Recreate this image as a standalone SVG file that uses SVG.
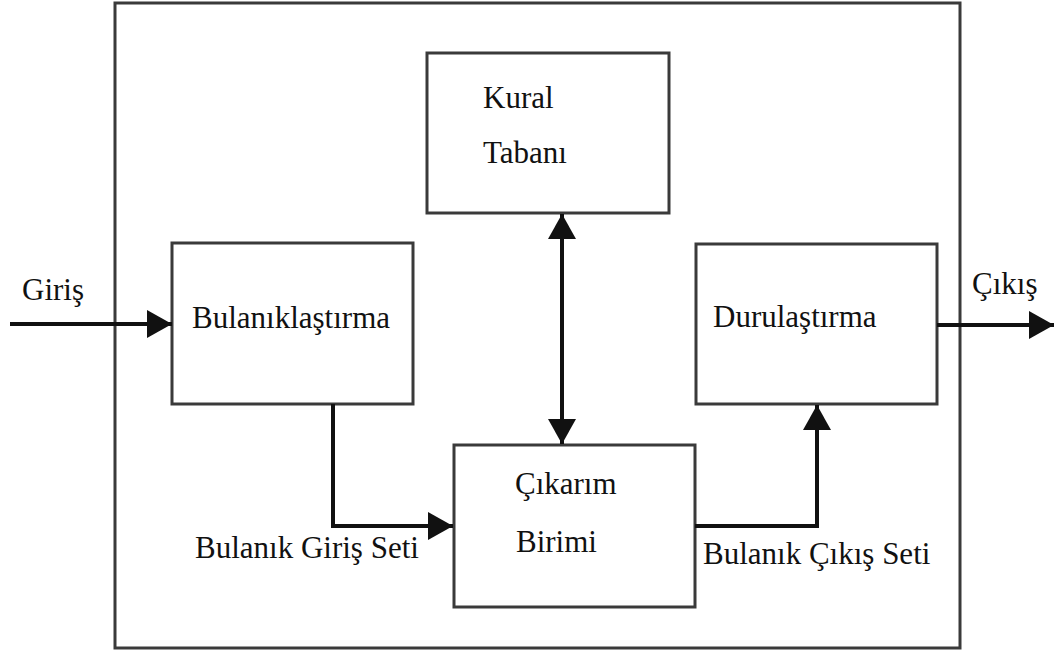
<svg xmlns="http://www.w3.org/2000/svg" width="1055" height="655" viewBox="0 0 1055 655">
  <style>
    .box { fill: #ffffff; stroke: #3a3a3a; stroke-width: 3; }
    .frame { fill: none; stroke: #3a3a3a; stroke-width: 3; }
    .wire { fill: none; stroke: #111111; stroke-width: 4; stroke-linejoin: miter; }
    .lbl { font-family: "Liberation Serif", "Times New Roman", serif; font-size: 31px; fill: #111111; }
  </style>
  <defs>
    <marker id="head" markerUnits="userSpaceOnUse" markerWidth="26" markerHeight="28" refX="25" refY="14" orient="auto-start-reverse">
      <path d="M0,0 L25,14 L0,28 Z" fill="#111111"/>
    </marker>
  </defs>

  <rect width="1055" height="655" fill="#ffffff"/>

  <!-- enclosing system frame -->
  <rect id="frame" class="frame" x="115" y="3" width="845" height="645"/>

  <!-- blocks -->
  <g id="kural-tabani">
    <rect class="box" x="427" y="53" width="242" height="160"/>
    <text class="lbl" x="483" y="108">Kural</text>
    <text class="lbl" x="483" y="163">Tabanı</text>
  </g>

  <g id="bulaniklastirma">
    <rect class="box" x="172" y="243" width="241" height="161"/>
    <text class="lbl" x="192" y="328">Bulanıklaştırma</text>
  </g>

  <g id="durulastirma">
    <rect class="box" x="696" y="244" width="241" height="160"/>
    <text class="lbl" x="713" y="327">Durulaştırma</text>
  </g>

  <g id="cikarim-birimi">
    <rect class="box" x="454" y="445" width="241" height="162"/>
    <text class="lbl" x="515" y="494">Çıkarım</text>
    <text class="lbl" x="516" y="552">Birimi</text>
  </g>

  <!-- signal flow -->
  <g id="connectors">
    <line class="wire" x1="10" y1="324" x2="172" y2="324" marker-end="url(#head)"/>
    <line class="wire" x1="937" y1="325" x2="1054" y2="325" marker-end="url(#head)"/>
    <line class="wire" x1="562" y1="214" x2="562" y2="444" marker-start="url(#head)" marker-end="url(#head)"/>
    <path class="wire" d="M333,404 V526 H453" marker-end="url(#head)"/>
    <path class="wire" d="M695,526 H817 V405" marker-end="url(#head)"/>
  </g>

  <!-- edge labels -->
  <g id="labels">
    <text class="lbl" x="22" y="300">Giriş</text>
    <text class="lbl" x="972" y="294">Çıkış</text>
    <text class="lbl" x="195" y="558">Bulanık Giriş Seti</text>
    <text class="lbl" x="703" y="564">Bulanık Çıkış Seti</text>
  </g>
</svg>
